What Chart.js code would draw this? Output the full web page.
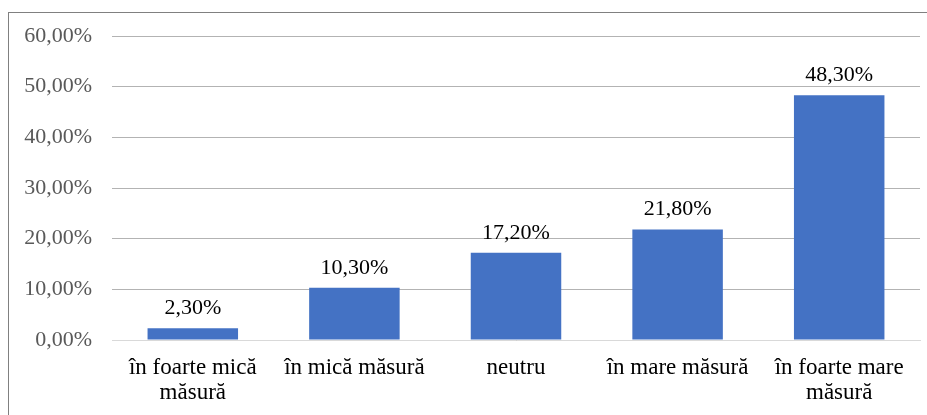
<!DOCTYPE html>
<html><head><meta charset="utf-8">
<script src="https://cdn.jsdelivr.net/npm/chart.js@4/dist/chart.umd.min.js"></script>
<style>
html,body{margin:0;padding:0;background:#fff;}
#wrap{position:relative;width:927px;height:415px;overflow:hidden;}
#frame{position:absolute;left:8px;top:12px;width:1000px;height:1000px;border-left:1px solid #808080;border-top:1px solid #808080;box-sizing:border-box;}
canvas{position:absolute;left:0;top:0;}
</style></head>
<body><div id="wrap"><div id="frame"></div><canvas id="c" width="927" height="415"></canvas></div>
<script>
const categories = [["în foarte mică","măsură"],"în mică măsură","neutru","în mare măsură",["în foarte mare","măsură"]];
const values = [2.3, 10.3, 17.2, 21.8, 48.3];
const yTicks = [0,10,20,30,40,50,60];

function fmt(v){ return v.toFixed(2).replace('.',',') + '%'; }

const labelPlugin = {
  id:'lbl',
  afterDatasetsDraw(chart){
    const ctx = chart.ctx;
    const meta = chart.getDatasetMeta(0);
    ctx.save();
    ctx.font = '22px "Liberation Serif"';
    ctx.fillStyle = '#000';
    ctx.textAlign = 'center';
    ctx.textBaseline = 'bottom';
    meta.data.forEach((bar,i)=>{
      ctx.fillText(fmt(values[i]), bar.x, bar.y - 9);
    });
    ctx.restore();
  }
};

new Chart(document.getElementById('c'), {
  type:'bar',
  data:{ labels:categories, datasets:[{ data:values, backgroundColor:'#4472C4', barPercentage:0.56, categoryPercentage:1 }]},
  options:{
    responsive:false, animation:false,
    layout:{ padding:{ top:36, right:7, bottom:0, left:0 } },
    plugins:{ legend:{display:false}, tooltip:{enabled:false} },
    scales:{
      x:{
        grid:{ display:false, drawTicks:false },
        border:{ display:true, color:'#d9d9d9', width:1 },
        ticks:{ color:'#000', font:{ family:'"Liberation Serif"', size:23, lineHeight:1.1 }, padding:15, maxRotation:0, autoSkip:false },
        afterFit(s){ s.height = 75; }
      },
      y:{
        min:0, max:60,
        afterBuildTicks(s){ s.ticks = yTicks.map(v=>({value:v})); },
        grid:{ color:'#b3b3b3', drawTicks:false, lineWidth:1 },
        border:{ display:false },
        ticks:{ color:'#595959', font:{ family:'"Liberation Serif"', size:22 }, padding:20, callback:(v)=>fmt(v) },
        afterFit(s){ s.width = 112; }
      }
    }
  },
  plugins:[labelPlugin]
});
</script></body></html>
